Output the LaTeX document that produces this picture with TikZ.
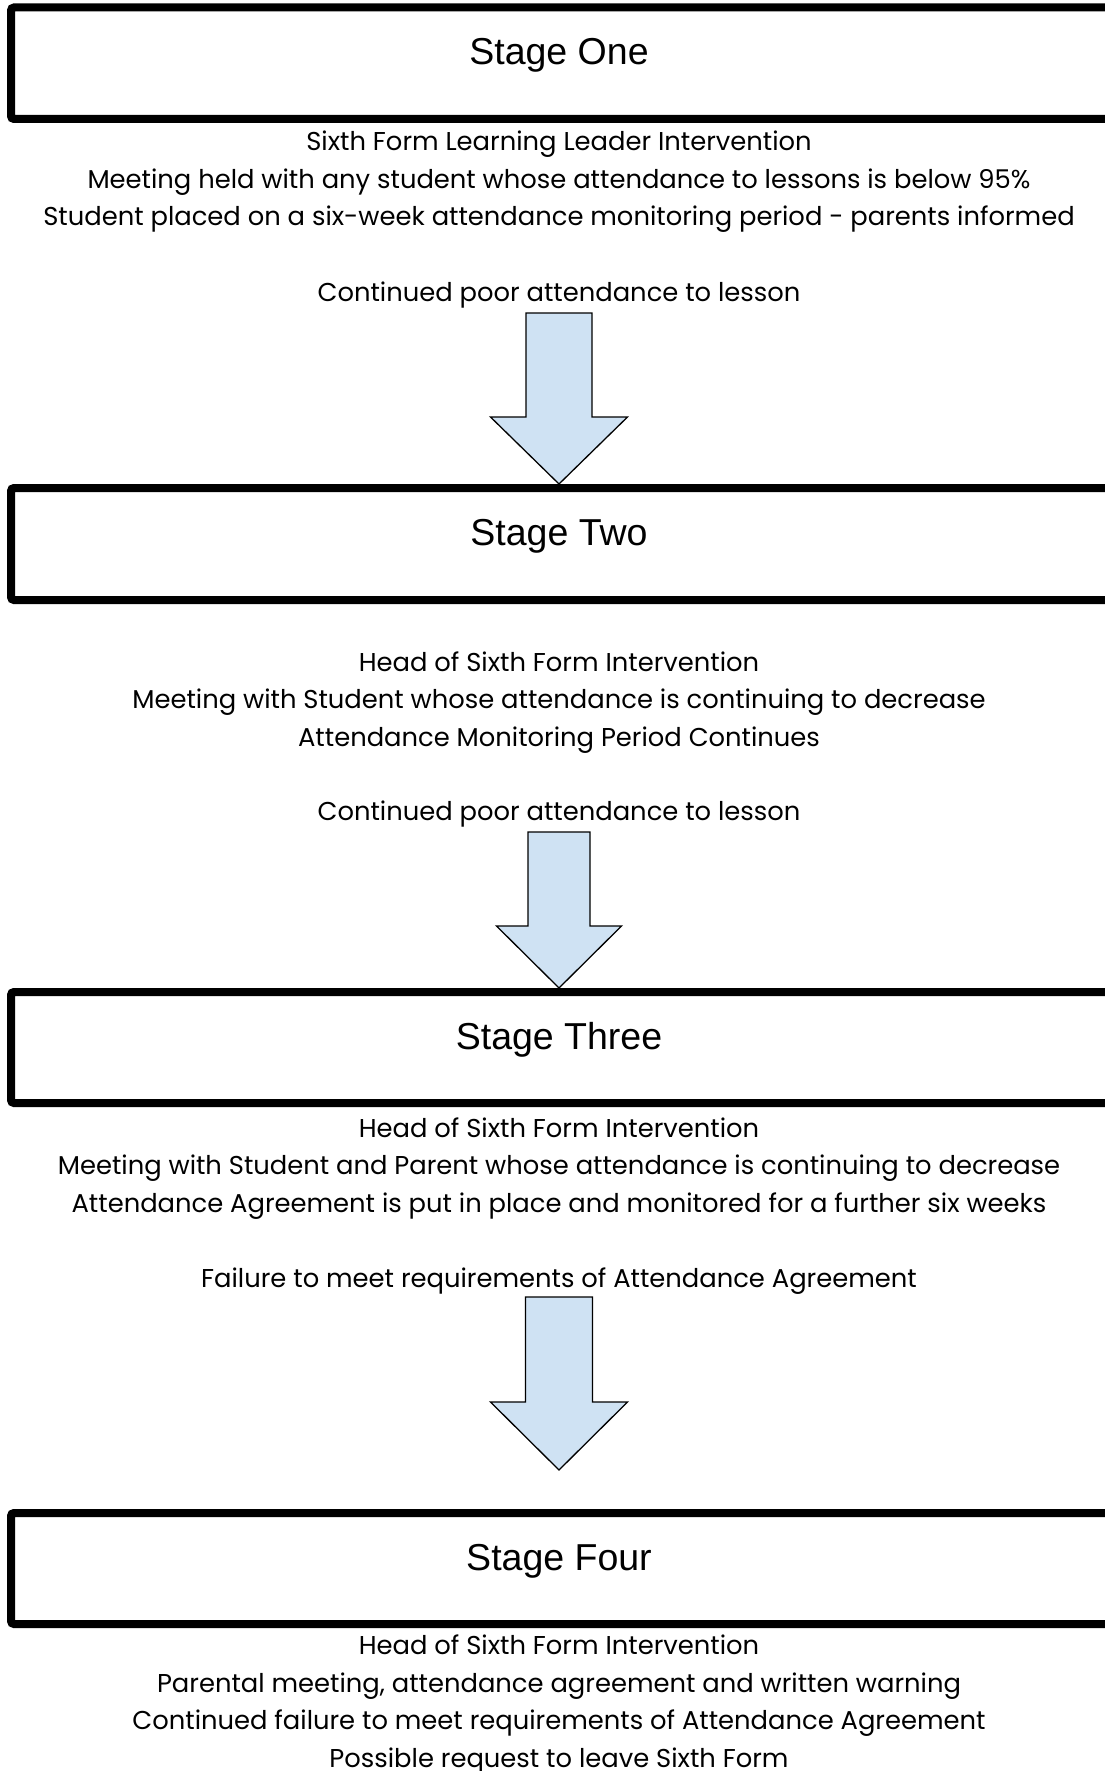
\documentclass[tikz,border=0pt]{standalone}
\usepackage{fontspec}
\setmainfont{Poppins}
\newfontfamily\titlefont{Liberation Sans}
\usetikzlibrary{positioning}
\definecolor{arrowblue}{RGB}{207,226,243}

% tip, head length, shaft length, shaft half width, head half width
\newcommand{\stagearrow}[5]{%
  \draw[blockarrow] (#1) -- ++(#5,-#2) -- ++(-#5+#4,0) -- ++(0,-#3)
    -- ++(-2*#4,0) -- ++(0,#3) -- ++(-#5+#4,0) -- cycle;}

\begin{document}
\begin{tikzpicture}[x=1pt, y=-1pt,
    stagebox/.style={draw, line width=8pt, rounded corners=3pt, minimum width=1109pt, inner sep=0pt},
    title/.style={font=\titlefont\fontsize{37.5}{40}\selectfont, anchor=base, inner sep=0pt},
    info/.style={font=\fontsize{25.8}{37.5}\selectfont, align=center, anchor=base, inner sep=0pt},
    blockarrow/.style={draw, line width=1.3pt, fill=arrowblue, line join=miter}]

    \useasboundingbox (0,0) rectangle (1104,1771);

    % stage one (info nodes sit on their last baseline)
    \node[stagebox, minimum height=111.5pt] (s1) at (565.5,63.25) {};
    \node[title] (t1) at (559,65) {Stage One};
    \node[info] (i1) at (559,226) {Sixth Form Learning Leader Intervention\\
        Meeting held with any student whose attendance to lessons is below 95\%\\
        Student placed on a six-week attendance monitoring period - parents informed};
    \node[info] (c1) at (559,301) {Continued poor attendance to lesson};

    % stage two
    \node[stagebox, minimum height=112pt] (s2) at (565.5,544) {};
    \node[title] (t2) at (559,545) {Stage Two};
    \node[info] (i2) at (559,746) {Head of Sixth Form Intervention\\
        Meeting with Student whose attendance is continuing to decrease\\
        Attendance Monitoring Period Continues};
    \node[info] (c2) at (559,820) {Continued poor attendance to lesson};

    % stage three
    \node[stagebox, minimum height=111pt] (s3) at (565.5,1047.5) {};
    \node[title] (t3) at (559,1049) {Stage Three};
    \node[info] (i3) at (559,1212) {Head of Sixth Form Intervention\\
        Meeting with Student and Parent whose attendance is continuing to decrease\\
        Attendance Agreement is put in place and monitored for a further six weeks};
    \node[info] (c3) at (559,1287) {Failure to meet requirements of Attendance Agreement};

    % stage four
    \node[stagebox, minimum height=111pt] (s4) at (565.5,1568.5) {};
    \node[title] (t4) at (559,1570) {Stage Four};
    \node[info] (i4) at (559,1767) {Head of Sixth Form Intervention\\
        Parental meeting, attendance agreement and written warning\\
        Continued failure to meet requirements of Attendance Agreement\\
        Possible request to leave Sixth Form};

    % arrows
    \coordinate (tip1) at (s2.north -| t1);
    \coordinate (tip2) at (s3.north -| t2);
    \coordinate (tip3) at (559,1470);
    \stagearrow{tip1}{67}{104}{33}{68.5}
    \stagearrow{tip2}{62}{94}{31}{62.5}
    \stagearrow{tip3}{68}{105}{33.5}{68.5}

\end{tikzpicture}
\end{document}
